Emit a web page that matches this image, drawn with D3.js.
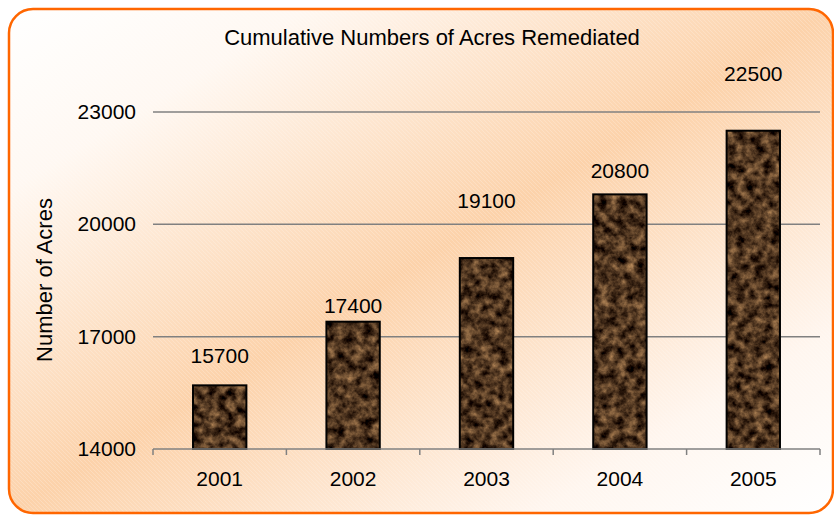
<!DOCTYPE html>
<html>
<head>
<meta charset="utf-8">
<script src="https://cdn.jsdelivr.net/npm/d3@7"></script>
<style>
  body { margin: 0; background: #fff; }
  text { font-family: "Liberation Sans", Arial, sans-serif; fill: #000; }
</style>
</head>
<body>
<div id="container"></div>
<script>
var years = ["2001", "2002", "2003", "2004", "2005"];
var acres = [15700, 17400, 19100, 20800, 22500];
var yTicks = [14000, 17000, 20000, 23000];
var title = "Cumulative Numbers of Acres Remediated";
var yTitle = "Number of Acres";

var width = 834, height = 517;
// how far each value label sits above its bar (px), as in the original
var labelLift = [22, 9, 50, 16, 50];

var svg = d3.select("#container").append("svg")
  .attr("width", width).attr("height", height);
var defs = svg.append("defs");

var bg = defs.append("linearGradient").attr("id", "bg")
  .attr("x1", 0).attr("y1", 0).attr("x2", 1).attr("y2", 1);
bg.append("stop").attr("offset", 0).attr("stop-color", "#ffffff");
bg.append("stop").attr("offset", 0.18).attr("stop-color", "#fff8f2");
bg.append("stop").attr("offset", 0.5).attr("stop-color", "#fcd2aa");
bg.append("stop").attr("offset", 0.82).attr("stop-color", "#fff6ef");
bg.append("stop").attr("offset", 1).attr("stop-color", "#ffffff");

var hatch = defs.append("pattern").attr("id", "hatch")
  .attr("width", 4).attr("height", 4).attr("patternUnits", "userSpaceOnUse");
hatch.append("path").attr("d", "M0,0L4,4").attr("stroke", "#fff").attr("stroke-opacity", 0.25).attr("stroke-width", 0.8);

// marble look for the bars
var f = defs.append("filter").attr("id", "marble")
  .attr("x", 0).attr("y", 0).attr("width", 1).attr("height", 1)
  .attr("color-interpolation-filters", "sRGB");
f.append("feTurbulence").attr("type", "fractalNoise").attr("baseFrequency", 0.11)
  .attr("numOctaves", 4).attr("seed", 7).attr("result", "n");
f.append("feColorMatrix").attr("in", "n").attr("type", "matrix")
  .attr("values", "1.0 0 0 0 -0.19  0.8 0 0 0 -0.19  0.55 0 0 0 -0.15  0 0 0 0 1");

svg.append("rect").attr("x", 9).attr("y", 9).attr("width", 824).attr("height", 504)
  .attr("rx", 24).attr("fill", "url(#bg)");
svg.append("rect").attr("x", 9).attr("y", 9).attr("width", 824).attr("height", 504)
  .attr("rx", 24).attr("fill", "url(#hatch)");
svg.append("rect").attr("x", 9).attr("y", 9).attr("width", 824).attr("height", 504)
  .attr("rx", 24).attr("fill", "none").attr("stroke", "#ff6600").attr("stroke-width", 2.5);

var x = d3.scaleBand().domain(years).range([153, 820]).paddingInner(0.6).paddingOuter(0.3);
var xb = d3.scaleBand().domain(years).range([153, 820]);
var y = d3.scaleLinear().domain([14000, 23000]).range([449, 112]);

// gridlines
svg.append("g").selectAll("line").data(yTicks.slice(1)).join("line")
  .attr("x1", 153).attr("x2", 820)
  .attr("y1", function(d) { return y(d); }).attr("y2", function(d) { return y(d); })
  .attr("stroke", "#808080").attr("stroke-width", 1.5);

// y tick labels
svg.append("g").selectAll("text").data(yTicks).join("text")
  .attr("x", 136).attr("y", function(d) { return y(d) + 7; })
  .attr("text-anchor", "end").style("font-size", "21px")
  .text(function(d) { return d; });

// bars
svg.append("g").selectAll("rect").data(acres).join("rect")
  .attr("x", function(d, i) { return x(years[i]); })
  .attr("y", function(d) { return y(d); })
  .attr("width", x.bandwidth())
  .attr("height", function(d) { return y(14000) - y(d); })
  .attr("fill", "#4a3020").attr("filter", "url(#marble)");
svg.append("g").selectAll("rect").data(acres).join("rect")
  .attr("x", function(d, i) { return x(years[i]); })
  .attr("y", function(d) { return y(d); })
  .attr("width", x.bandwidth())
  .attr("height", function(d) { return y(14000) - y(d); })
  .attr("fill", "none").attr("stroke", "#000").attr("stroke-width", 2);

// x axis
var xAxis = svg.append("g").attr("transform", "translate(0," + y(14000) + ")");
xAxis.append("line").attr("x1", 153).attr("x2", 820).attr("stroke", "#808080").attr("stroke-width", 1.5);
xAxis.selectAll("line.tk").data(years.concat(["end"])).join("line").attr("class", "tk")
  .attr("x1", function(d, i) { return 153 + i * xb.step(); })
  .attr("x2", function(d, i) { return 153 + i * xb.step(); })
  .attr("y1", 0).attr("y2", 6).attr("stroke", "#808080").attr("stroke-width", 1.5);
xAxis.selectAll("text").data(years).join("text")
  .attr("x", function(d) { return xb(d) + xb.bandwidth() / 2; })
  .attr("y", 37).attr("text-anchor", "middle").style("font-size", "21px")
  .text(function(d) { return d; });

// value labels
svg.append("g").selectAll("text").data(acres).join("text")
  .attr("x", function(d, i) { return xb(years[i]) + xb.bandwidth() / 2; })
  .attr("y", function(d, i) { return y(d) - labelLift[i]; })
  .attr("text-anchor", "middle").style("font-size", "21px")
  .text(function(d) { return d; });

svg.append("text").attr("x", 432).attr("y", 45).attr("text-anchor", "middle")
  .style("font-size", "22px").text(title);
svg.append("text").attr("transform", "translate(52,280) rotate(-90)")
  .attr("text-anchor", "middle").style("font-size", "22px").text(yTitle);
</script>
</body>
</html>
